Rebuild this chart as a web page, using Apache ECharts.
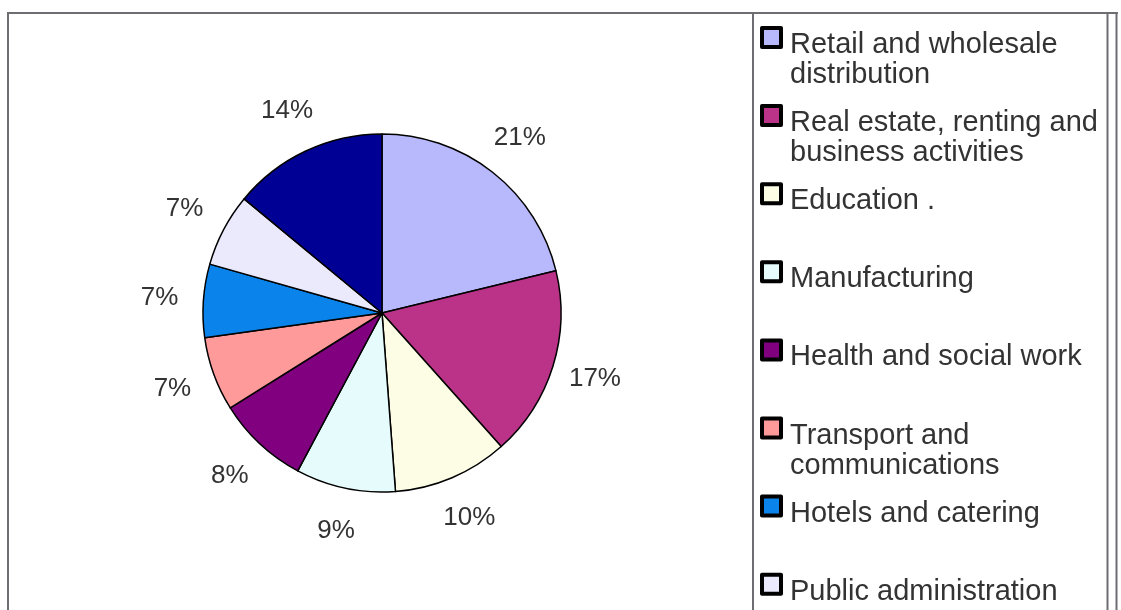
<!DOCTYPE html>
<html>
<head>
<meta charset="utf-8">
<script src="https://cdn.jsdelivr.net/npm/echarts@6/dist/echarts.min.js"></script>
<style>
html,body{margin:0;padding:0;background:#fff;}
#chart{width:1121px;height:610px;}
</style>
</head>
<body>
<div id="chart"></div>
<script>
const categories = [
  "Retail and wholesale distribution",
  "Real estate, renting and business activities",
  "Education .",
  "Manufacturing",
  "Health and social work",
  "Transport and communications",
  "Hotels and catering",
  "Public administration",
  "Other"
];
const legendLines = [
  ["Retail and wholesale", "distribution"],
  ["Real estate, renting and", "business activities"],
  ["Education .", " "],
  ["Manufacturing", " "],
  ["Health and social work", " "],
  ["Transport and", "communications"],
  ["Hotels and catering", " "],
  ["Public administration", " "],
  ["Other", " "]
];
const values = [21.2, 17.2, 10.4, 9.0, 8.3, 6.7, 6.6, 6.6, 14.0];
const colors = ["#b8b8fc", "#bb3388", "#fdfde6", "#e6fcfc", "#800080", "#ff9a9a", "#0a84ea", "#eaeafc", "#000094"];

const FONT = '"Liberation Sans", Arial, sans-serif';
const data = categories.map((c, i) => ({ name: c, value: values[i], itemStyle: { color: colors[i] } }));
const labelData = categories.map((c, i) => ({ name: c, value: values[i] }));

const chart = echarts.init(document.getElementById('chart'), null, { renderer: 'canvas' });
const frame = '#6e6e72';
chart.setOption({
  animation: false,
  backgroundColor: '#ffffff',
  legend: {
    orient: 'vertical',
    left: 760,
    top: 2.5,
    height: 1500,
    padding: 0,
    itemGap: -8.9,
    itemWidth: 19,
    itemHeight: 19,
    icon: 'rect',
    selectedMode: false,
    data: categories,
    itemStyle: { borderColor: '#000', borderWidth: 4 },
    formatter: function (name) {
      const l = legendLines[categories.indexOf(name)];
      return '{s| }\n{t|' + l[0] + '}\n{t|' + l[1] + '}';
    },
    textStyle: {
      fontFamily: FONT, fontSize: 29, color: '#333', padding: [0, 0, 0, 4],
      rich: {
        s: { fontSize: 10, lineHeight: 45 },
        t: { fontFamily: FONT, fontSize: 29, lineHeight: 30, color: '#333' }
      }
    }
  },
  series: [
    {
      type: 'pie',
      center: [382, 313],
      radius: 179,
      startAngle: 90,
      clockwise: true,
      silent: true,
      data: data,
      label: { show: false },
      labelLine: { show: false },
      itemStyle: { borderColor: '#000', borderWidth: 1.5 },
      emphasis: { disabled: true }
    },
    {
      type: 'pie',
      center: [382, 313],
      radius: [202, 238],
      startAngle: 90,
      clockwise: true,
      silent: true,
      legendHoverLink: false,
      data: labelData,
      itemStyle: { color: 'rgba(0,0,0,0)', borderWidth: 0 },
      label: {
        show: true,
        position: 'inside',
        fontFamily: FONT,
        fontSize: 26,
        color: '#333',
        textBorderWidth: 0,
        formatter: function (p) { return Math.round(p.percent) + '%'; }
      },
      labelLine: { show: false },
      emphasis: { disabled: true }
    }
  ],
  graphic: [
    { type: 'line', shape: { x1: 7, y1: 13, x2: 1118, y2: 13 }, style: { stroke: frame, lineWidth: 2 } },
    { type: 'line', shape: { x1: 8, y1: 13, x2: 8, y2: 610 }, style: { stroke: frame, lineWidth: 2 } },
    { type: 'line', shape: { x1: 753, y1: 13, x2: 753, y2: 610 }, style: { stroke: frame, lineWidth: 2 } },
    { type: 'line', shape: { x1: 1107.5, y1: 13, x2: 1107.5, y2: 610 }, style: { stroke: frame, lineWidth: 2 } },
    { type: 'line', shape: { x1: 1116.5, y1: 13, x2: 1116.5, y2: 610 }, style: { stroke: frame, lineWidth: 2 } }
  ]
});
</script>
</body>
</html>
